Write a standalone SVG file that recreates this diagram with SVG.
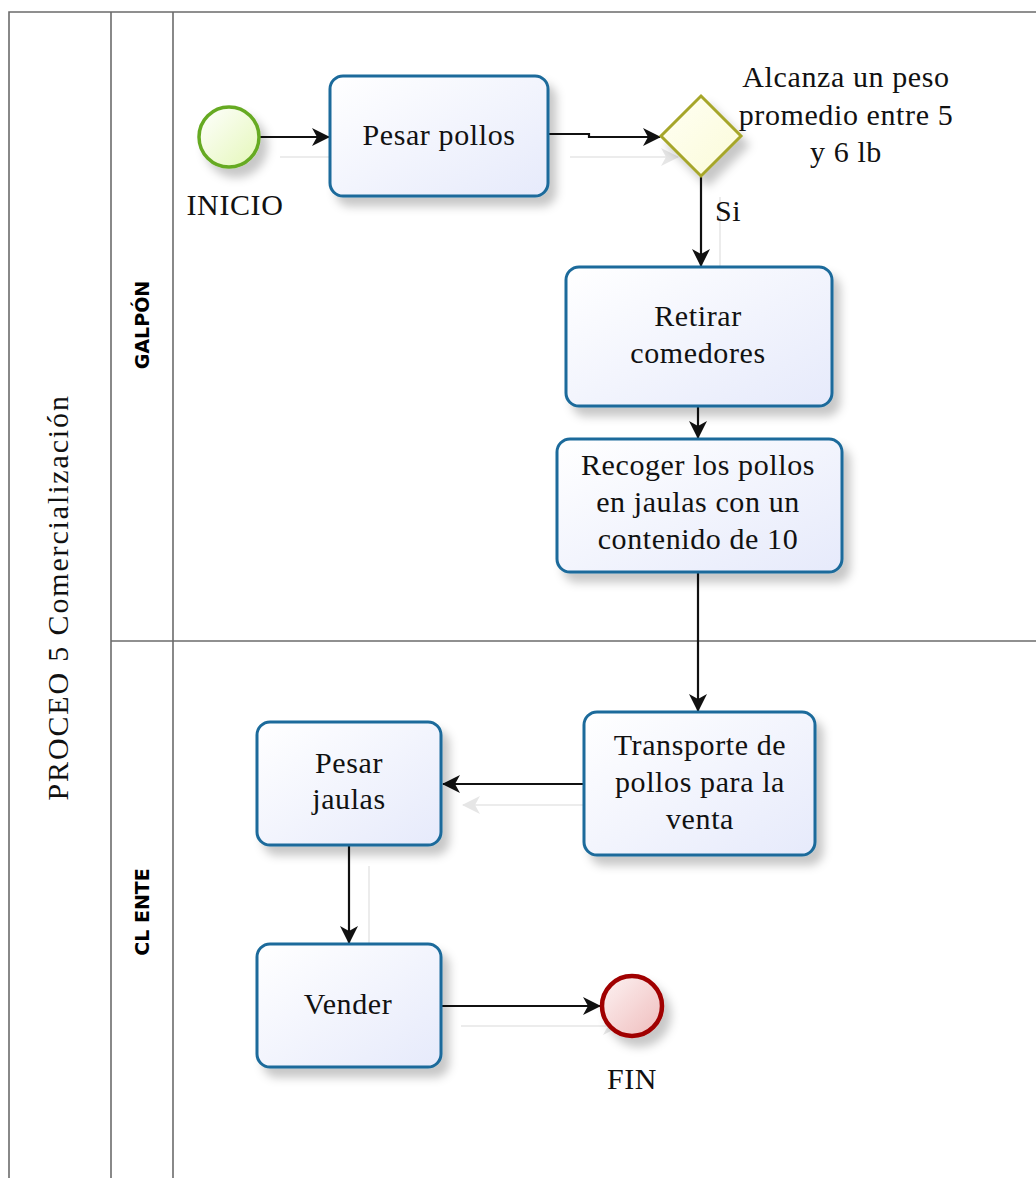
<svg xmlns="http://www.w3.org/2000/svg" width="1036" height="1178" viewBox="0 0 1036 1178">
  <style>
    .lane { stroke: #6b6b6b; stroke-width: 1.6; fill: none; }
    .task { fill: url(#taskFill); stroke: #1b6b9b; stroke-width: 3; filter: url(#soft); }
    .lbl { font-family: "Liberation Serif", "Times New Roman", serif; font-size: 30px; letter-spacing: 0.6px; fill: #111; text-anchor: middle; }
    .lane-lbl { font-family: "DejaVu Sans", "Liberation Sans", sans-serif; font-weight: bold; font-size: 19px; fill: #000; text-anchor: middle; }
    .flow { stroke: #111; stroke-width: 2.2; fill: none; marker-end: url(#arrow); }
    .ghost { stroke: #ececec; stroke-width: 2; fill: none; marker-end: url(#arrowGhost); }
  </style>
  <defs>
    <linearGradient id="taskFill" x1="0" y1="0" x2="1" y2="1">
      <stop offset="0" stop-color="#ffffff"/>
      <stop offset="1" stop-color="#e6eafb"/>
    </linearGradient>
    <linearGradient id="startFill" x1="0" y1="0" x2="1" y2="1">
      <stop offset="0" stop-color="#ffffff"/>
      <stop offset="1" stop-color="#e4f7b8"/>
    </linearGradient>
    <linearGradient id="endFill" x1="0" y1="0" x2="1" y2="1">
      <stop offset="0" stop-color="#fdf3f3"/>
      <stop offset="1" stop-color="#efbcbc"/>
    </linearGradient>
    <linearGradient id="gateFill" x1="0" y1="0" x2="1" y2="1">
      <stop offset="0" stop-color="#fffff4"/>
      <stop offset="1" stop-color="#fbfbd8"/>
    </linearGradient>
    <filter id="soft" x="-20%" y="-20%" width="150%" height="160%">
      <feDropShadow dx="7" dy="9" stdDeviation="5" flood-color="#000" flood-opacity="0.22"/>
    </filter>
    <marker id="arrow" viewBox="0 0 18 18" refX="17" refY="9" markerWidth="18" markerHeight="18" markerUnits="userSpaceOnUse" orient="auto">
      <path d="M0,0 L18,9 L0,18 L5,9 Z" fill="#111"/>
    </marker>
    <marker id="arrowGhost" viewBox="0 0 18 18" refX="17" refY="9" markerWidth="18" markerHeight="18" markerUnits="userSpaceOnUse" orient="auto">
      <path d="M0,0 L18,9 L0,18 L5,9 Z" fill="#e6e6e6"/>
    </marker>
  </defs>

  <rect width="1036" height="1178" fill="#fff"/>

  <!-- pool and lanes -->
  <g id="pool">
    <path class="lane" d="M9,1178 V12 H1036" stroke="#444"/>
    <line class="lane" x1="111" y1="12" x2="111" y2="1178"/>
    <line class="lane" x1="173" y1="12" x2="173" y2="1178"/>
    <line class="lane" x1="111" y1="641" x2="1036" y2="641"/>
    <text class="lbl" transform="translate(68,598) rotate(-90)" textLength="405" lengthAdjust="spacing">PROCEO 5 Comercialización</text>
  </g>
  <g id="lane-galpon">
    <text class="lane-lbl" transform="translate(149,325) rotate(-90)">GALPÓN</text>
  </g>
  <g id="lane-cliente">
    <text class="lane-lbl" transform="translate(149,912) rotate(-90)">CL ENTE</text>
  </g>

  <!-- faint connector shadows -->
  <g id="connector-shadows">
    <line class="ghost" x1="280" y1="157" x2="346" y2="157"/>
    <line class="ghost" x1="570" y1="157" x2="678" y2="157"/>
    <line class="ghost" x1="720" y1="197" x2="720" y2="286"/>
    <line class="ghost" x1="604" y1="805" x2="463" y2="805"/>
    <line class="ghost" x1="369" y1="866" x2="369" y2="963"/>
    <line class="ghost" x1="461" y1="1026" x2="620" y2="1026"/>
  </g>

  <!-- sequence flows -->
  <g id="connectors">
    <line class="flow" x1="260" y1="137" x2="329" y2="137"/>
    <path class="flow" d="M549,134 H589 V137 H660"/>
    <line class="flow" x1="701" y1="177" x2="701" y2="266"/>
    <line class="flow" x1="698" y1="407" x2="698" y2="438"/>
    <line class="flow" x1="698" y1="573" x2="698" y2="711"/>
    <line class="flow" x1="584" y1="784" x2="443" y2="784"/>
    <line class="flow" x1="349" y1="846" x2="349" y2="943"/>
    <line class="flow" x1="441" y1="1006" x2="600" y2="1006"/>
    <text class="lbl" x="728" y="221">Si</text>
  </g>

  <!-- events, gateway and tasks -->
  <g id="start">
    <circle cx="229" cy="137" r="30" fill="url(#startFill)" stroke="#66aa22" stroke-width="3.5" filter="url(#soft)"/>
    <text class="lbl" x="235" y="215">INICIO</text>
  </g>
  <g id="task-pesar-pollos">
    <rect class="task" x="330" y="76" width="218" height="120" rx="13"/>
    <text class="lbl" x="439" y="145">Pesar pollos</text>
  </g>
  <g id="gateway">
    <path d="M701,96 L741,136 L701,176 L661,136 Z" fill="url(#gateFill)" stroke="#a6a62a" stroke-width="3" filter="url(#soft)"/>
    <text class="lbl" x="846" y="87">Alcanza un peso</text>
    <text class="lbl" x="846" y="124.5">promedio entre 5</text>
    <text class="lbl" x="846" y="162">y 6 lb</text>
  </g>
  <g id="task-retirar">
    <rect class="task" x="566" y="267" width="266" height="139" rx="13"/>
    <text class="lbl" x="698" y="326">Retirar</text>
    <text class="lbl" x="698" y="363">comedores</text>
  </g>
  <g id="task-recoger">
    <rect class="task" x="557" y="439" width="285" height="133" rx="13"/>
    <text class="lbl" x="698" y="475">Recoger los pollos</text>
    <text class="lbl" x="698" y="512">en jaulas con un</text>
    <text class="lbl" x="698" y="549">contenido de 10</text>
  </g>
  <g id="task-transporte">
    <rect class="task" x="584" y="712" width="231" height="143" rx="13"/>
    <text class="lbl" x="700" y="755">Transporte de</text>
    <text class="lbl" x="700" y="792">pollos para la</text>
    <text class="lbl" x="700" y="829">venta</text>
  </g>
  <g id="task-pesar-jaulas">
    <rect class="task" x="257" y="722" width="184" height="123" rx="13"/>
    <text class="lbl" x="349" y="773">Pesar</text>
    <text class="lbl" x="349" y="809">jaulas</text>
  </g>
  <g id="task-vender">
    <rect class="task" x="257" y="944" width="184" height="123" rx="13"/>
    <text class="lbl" x="348" y="1014">Vender</text>
  </g>
  <g id="end">
    <circle cx="632" cy="1006" r="30" fill="url(#endFill)" stroke="#a00000" stroke-width="4.5" filter="url(#soft)"/>
    <text class="lbl" x="632" y="1089">FIN</text>
  </g>
</svg>
